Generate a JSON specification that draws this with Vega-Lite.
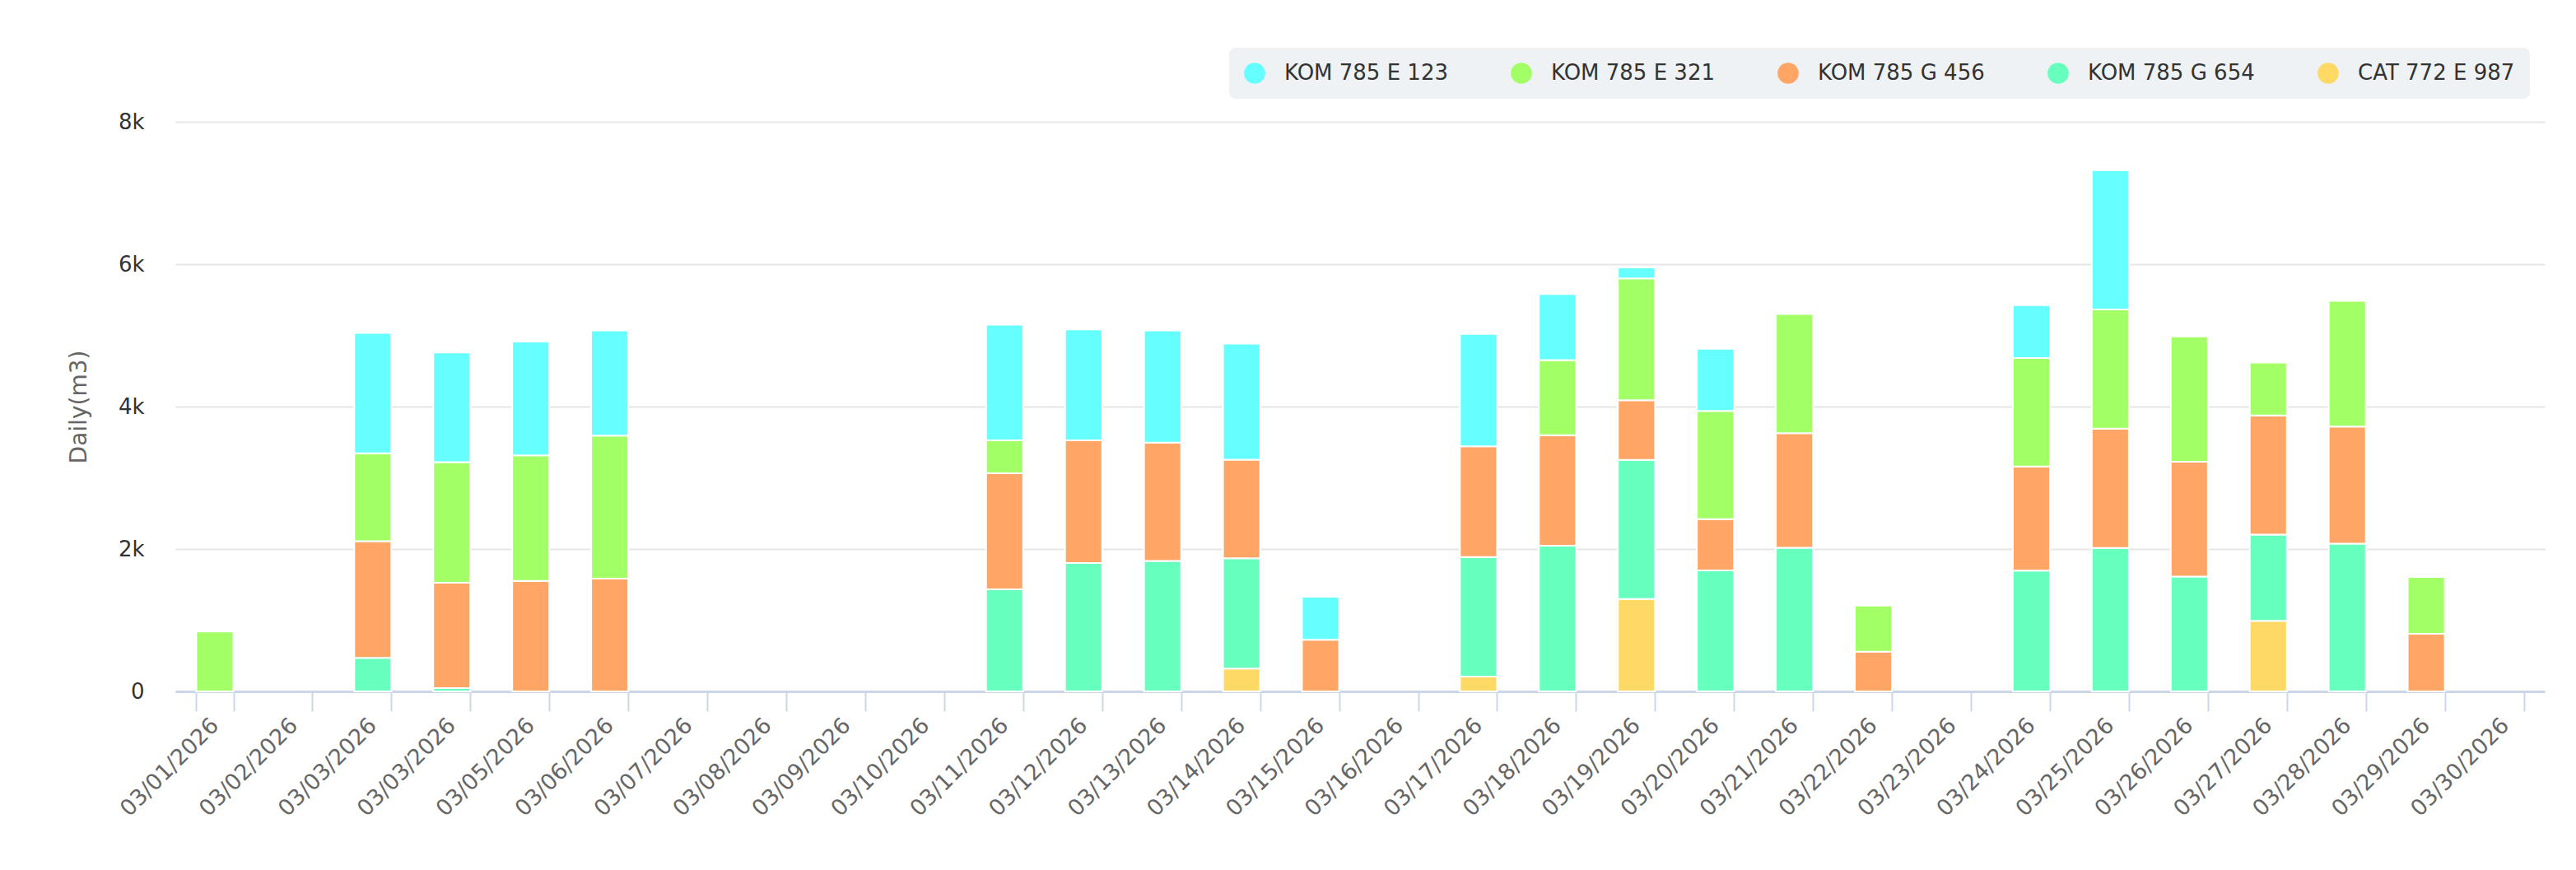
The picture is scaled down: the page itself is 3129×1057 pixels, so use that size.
{
  "$schema": "https://vega.github.io/schema/vega-lite/v6.json",
  "width": 2878,
  "height": 692,
  "autosize": {"type": "none"},
  "padding": {"left": 213, "top": 148, "right": 38, "bottom": 217},
  "background": "white",
  "config": {
    "view": {"stroke": null},
    "font": "DejaVu Sans"
  },
  "data": {
    "values": [
      {"date": "03/01/2026", "unit": "KOM 785 E 321", "rank": 4, "value": 840},
      {"date": "03/03/2026", "unit": "KOM 785 G 654", "rank": 2, "value": 470},
      {"date": "03/03/2026", "unit": "KOM 785 G 456", "rank": 3, "value": 1640},
      {"date": "03/03/2026", "unit": "KOM 785 E 321", "rank": 4, "value": 1235},
      {"date": "03/03/2026", "unit": "KOM 785 E 123", "rank": 5, "value": 1690},
      {"date": "03/03/2026\u200b", "unit": "KOM 785 G 654", "rank": 2, "value": 45},
      {"date": "03/03/2026\u200b", "unit": "KOM 785 G 456", "rank": 3, "value": 1480},
      {"date": "03/03/2026\u200b", "unit": "KOM 785 E 321", "rank": 4, "value": 1696},
      {"date": "03/03/2026\u200b", "unit": "KOM 785 E 123", "rank": 5, "value": 1538},
      {"date": "03/05/2026", "unit": "KOM 785 G 456", "rank": 3, "value": 1553},
      {"date": "03/05/2026", "unit": "KOM 785 E 321", "rank": 4, "value": 1761},
      {"date": "03/05/2026", "unit": "KOM 785 E 123", "rank": 5, "value": 1600},
      {"date": "03/06/2026", "unit": "KOM 785 G 456", "rank": 3, "value": 1584},
      {"date": "03/06/2026", "unit": "KOM 785 E 321", "rank": 4, "value": 2008},
      {"date": "03/06/2026", "unit": "KOM 785 E 123", "rank": 5, "value": 1476},
      {"date": "03/11/2026", "unit": "KOM 785 G 654", "rank": 2, "value": 1434},
      {"date": "03/11/2026", "unit": "KOM 785 G 456", "rank": 3, "value": 1630},
      {"date": "03/11/2026", "unit": "KOM 785 E 321", "rank": 4, "value": 462},
      {"date": "03/11/2026", "unit": "KOM 785 E 123", "rank": 5, "value": 1623},
      {"date": "03/12/2026", "unit": "KOM 785 G 654", "rank": 2, "value": 1804},
      {"date": "03/12/2026", "unit": "KOM 785 G 456", "rank": 3, "value": 1722},
      {"date": "03/12/2026", "unit": "KOM 785 E 123", "rank": 5, "value": 1557},
      {"date": "03/13/2026", "unit": "KOM 785 G 654", "rank": 2, "value": 1831},
      {"date": "03/13/2026", "unit": "KOM 785 G 456", "rank": 3, "value": 1664},
      {"date": "03/13/2026", "unit": "KOM 785 E 123", "rank": 5, "value": 1573},
      {"date": "03/14/2026", "unit": "CAT 772 E 987", "rank": 1, "value": 320},
      {"date": "03/14/2026", "unit": "KOM 785 G 654", "rank": 2, "value": 1549},
      {"date": "03/14/2026", "unit": "KOM 785 G 456", "rank": 3, "value": 1384},
      {"date": "03/14/2026", "unit": "KOM 785 E 123", "rank": 5, "value": 1630},
      {"date": "03/15/2026", "unit": "KOM 785 G 456", "rank": 3, "value": 725},
      {"date": "03/15/2026", "unit": "KOM 785 E 123", "rank": 5, "value": 605},
      {"date": "03/17/2026", "unit": "CAT 772 E 987", "rank": 1, "value": 208},
      {"date": "03/17/2026", "unit": "KOM 785 G 654", "rank": 2, "value": 1680},
      {"date": "03/17/2026", "unit": "KOM 785 G 456", "rank": 3, "value": 1555},
      {"date": "03/17/2026", "unit": "KOM 785 E 123", "rank": 5, "value": 1576},
      {"date": "03/18/2026", "unit": "KOM 785 G 654", "rank": 2, "value": 2046},
      {"date": "03/18/2026", "unit": "KOM 785 G 456", "rank": 3, "value": 1551},
      {"date": "03/18/2026", "unit": "KOM 785 E 321", "rank": 4, "value": 1056},
      {"date": "03/18/2026", "unit": "KOM 785 E 123", "rank": 5, "value": 927},
      {"date": "03/19/2026", "unit": "CAT 772 E 987", "rank": 1, "value": 1297},
      {"date": "03/19/2026", "unit": "KOM 785 G 654", "rank": 2, "value": 1954},
      {"date": "03/19/2026", "unit": "KOM 785 G 456", "rank": 3, "value": 840},
      {"date": "03/19/2026", "unit": "KOM 785 E 321", "rank": 4, "value": 1709},
      {"date": "03/19/2026", "unit": "KOM 785 E 123", "rank": 5, "value": 154},
      {"date": "03/20/2026", "unit": "KOM 785 G 654", "rank": 2, "value": 1700},
      {"date": "03/20/2026", "unit": "KOM 785 G 456", "rank": 3, "value": 720},
      {"date": "03/20/2026", "unit": "KOM 785 E 321", "rank": 4, "value": 1518},
      {"date": "03/20/2026", "unit": "KOM 785 E 123", "rank": 5, "value": 873},
      {"date": "03/21/2026", "unit": "KOM 785 G 654", "rank": 2, "value": 2017},
      {"date": "03/21/2026", "unit": "KOM 785 G 456", "rank": 3, "value": 1609},
      {"date": "03/21/2026", "unit": "KOM 785 E 321", "rank": 4, "value": 1675},
      {"date": "03/22/2026", "unit": "KOM 785 G 456", "rank": 3, "value": 557},
      {"date": "03/22/2026", "unit": "KOM 785 E 321", "rank": 4, "value": 649},
      {"date": "03/24/2026", "unit": "KOM 785 G 654", "rank": 2, "value": 1697},
      {"date": "03/24/2026", "unit": "KOM 785 G 456", "rank": 3, "value": 1463},
      {"date": "03/24/2026", "unit": "KOM 785 E 321", "rank": 4, "value": 1523},
      {"date": "03/24/2026", "unit": "KOM 785 E 123", "rank": 5, "value": 742},
      {"date": "03/25/2026", "unit": "KOM 785 G 654", "rank": 2, "value": 2015},
      {"date": "03/25/2026", "unit": "KOM 785 G 456", "rank": 3, "value": 1675},
      {"date": "03/25/2026", "unit": "KOM 785 E 321", "rank": 4, "value": 1674},
      {"date": "03/25/2026", "unit": "KOM 785 E 123", "rank": 5, "value": 1957},
      {"date": "03/26/2026", "unit": "KOM 785 G 654", "rank": 2, "value": 1612},
      {"date": "03/26/2026", "unit": "KOM 785 G 456", "rank": 3, "value": 1614},
      {"date": "03/26/2026", "unit": "KOM 785 E 321", "rank": 4, "value": 1760},
      {"date": "03/27/2026", "unit": "CAT 772 E 987", "rank": 1, "value": 991},
      {"date": "03/27/2026", "unit": "KOM 785 G 654", "rank": 2, "value": 1211},
      {"date": "03/27/2026", "unit": "KOM 785 G 456", "rank": 3, "value": 1675},
      {"date": "03/27/2026", "unit": "KOM 785 E 321", "rank": 4, "value": 741},
      {"date": "03/28/2026", "unit": "KOM 785 G 654", "rank": 2, "value": 2076},
      {"date": "03/28/2026", "unit": "KOM 785 G 456", "rank": 3, "value": 1644},
      {"date": "03/28/2026", "unit": "KOM 785 E 321", "rank": 4, "value": 1765},
      {"date": "03/29/2026", "unit": "KOM 785 G 456", "rank": 3, "value": 809},
      {"date": "03/29/2026", "unit": "KOM 785 E 321", "rank": 4, "value": 797}
    ]
  },
  "mark": {"type": "bar", "stroke": "white", "strokeWidth": 2},
  "encoding": {
    "x": {
      "field": "date",
      "type": "nominal",
      "sort": null,
      "scale": {
        "domain": ["03/01/2026", "03/02/2026", "03/03/2026", "03/03/2026\u200b", "03/05/2026", "03/06/2026", "03/07/2026", "03/08/2026", "03/09/2026", "03/10/2026", "03/11/2026", "03/12/2026", "03/13/2026", "03/14/2026", "03/15/2026", "03/16/2026", "03/17/2026", "03/18/2026", "03/19/2026", "03/20/2026", "03/21/2026", "03/22/2026", "03/23/2026", "03/24/2026", "03/25/2026", "03/26/2026", "03/27/2026", "03/28/2026", "03/29/2026", "03/30/2026"],
        "paddingInner": 0.53,
        "paddingOuter": 0.265
      },
      "axis": {
        "title": null,
        "labelAngle": -45,
        "labelAlign": "right",
        "labelBaseline": "middle",
        "labelFont": "DejaVu Sans",
        "labelFontSize": 27,
        "labelColor": "#666666",
        "labelPadding": 13,
        "labelLimit": 0,
        "tickBand": "extent",
        "tickSize": 24,
        "tickWidth": 2,
        "tickColor": "#ccd6eb",
        "domainColor": "#ccd6eb",
        "domainWidth": 3,
        "grid": false
      }
    },
    "y": {
      "field": "value",
      "type": "quantitative",
      "aggregate": "sum",
      "stack": "zero",
      "scale": {"domain": [0, 8000], "nice": false},
      "axis": {
        "title": "Daily(m3)",
        "values": [0, 2000, 4000, 6000, 8000],
        "labelExpr": "datum.value == 0 ? '0' : format(datum.value / 1000, 'd') + 'k'",
        "labelFont": "DejaVu Sans",
        "labelFontSize": 26,
        "labelColor": "#333333",
        "labelPadding": 38,
        "ticks": false,
        "tickSize": 0,
        "domain": false,
        "grid": true,
        "gridColor": "#e6e6e6",
        "gridWidth": 2,
        "titleFont": "DejaVu Sans",
        "titleFontSize": 28,
        "titleFontWeight": "normal",
        "titleColor": "#666666",
        "titlePadding": 33
      }
    },
    "color": {
      "field": "unit",
      "type": "nominal",
      "scale": {
        "domain": ["KOM 785 E 123", "KOM 785 E 321", "KOM 785 G 456", "KOM 785 G 654", "CAT 772 E 987"],
        "range": ["#66ffff", "#a3ff66", "#ffa666", "#66ffbd", "#ffd966"]
      },
      "legend": {
        "title": null,
        "orient": "none",
        "direction": "horizontal",
        "legendX": 1280,
        "legendY": -90,
        "symbolType": "circle",
        "symbolSize": 660,
        "symbolStrokeWidth": 0,
        "labelFont": "DejaVu Sans",
        "labelFontSize": 26,
        "labelColor": "#333333",
        "labelLimit": 0,
        "labelOffset": 23,
        "columnPadding": 76,
        "padding": 18,
        "fillColor": "#eff2f5",
        "cornerRadius": 8
      }
    },
    "order": {"field": "rank", "type": "quantitative"}
  }
}
